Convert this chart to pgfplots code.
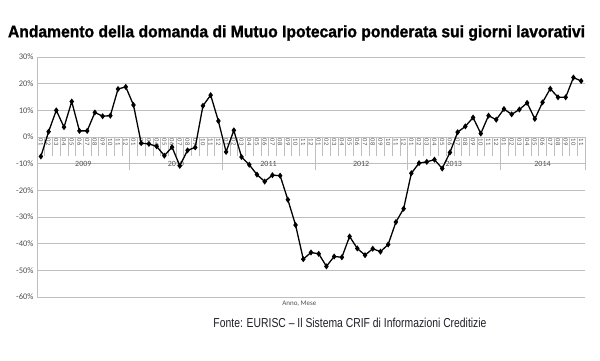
\documentclass[border=0pt]{standalone}
\usepackage{pgfplots}
\pgfplotsset{compat=1.18}
\usepackage{fontspec}
\setmainfont{Carlito}
\newfontfamily\arial{Liberation Sans}[Ligatures=TeX]
\newfontfamily\titlefont{Liberation Sans}[BoldFeatures={FakeBold=1.3}]
\definecolor{gridc}{RGB}{190,190,190}
\definecolor{labc}{RGB}{80,80,80}
\begin{document}
\begin{tikzpicture}[x=1pt,y=1pt]
\path[use as bounding box] (0,0) rectangle (600,360);
\begin{axis}[
  at={(37pt,63pt)}, anchor=south west,
  scale only axis, width=548pt, height=240pt,
  xmin=0.5, xmax=71.5, ymin=-60, ymax=30,
  axis x line=middle, axis y line*=left,
  x axis line style={draw=none},
  y axis line style={gridc, line width=0.8pt},
  xtick={1,...,71},
  xticklabels={01,02,03,04,05,06,07,08,09,10,11,12,01,02,03,04,05,06,07,08,09,10,11,12,01,02,03,04,05,06,07,08,09,10,11,12,01,02,03,04,05,06,07,08,09,10,11,12,01,02,03,04,05,06,07,08,09,10,11,12,01,02,03,04,05,06,07,08,09,10,11},
  xticklabel style={rotate=-90, anchor=west, font=\fontsize{6.5}{7}\selectfont, text=labc, inner sep=1.5pt},
  ytick={-60,-50,...,30},
  yticklabels={-60\%,-50\%,-40\%,-30\%,-20\%,-10\%,0\%,10\%,20\%,30\%},
  yticklabel style={font=\fontsize{8.5}{9}\selectfont, text=labc},
  /pgf/number format/assume math mode=true,
  major tick length=0pt,
  ymajorgrids, grid style={gridc, line width=0.8pt},
  clip=false,
]
\pgfplotsinvokeforeach{1,...,70}{\draw[gridc, line width=0.5pt] (axis cs:#1.5,0) -- (axis cs:#1.5,-7.3);}
\pgfplotsinvokeforeach{0,12,24,36,48,60,71}{\draw[gridc, line width=0.7pt] (axis cs:#1.5,0) -- (axis cs:#1.5,-12.5);}
\node[font=\fontsize{8}{9}\selectfont, text=labc] at (axis cs:6.5,-10.2) {2009};
\node[font=\fontsize{8}{9}\selectfont, text=labc] at (axis cs:18.5,-10.2) {2010};
\node[font=\fontsize{8}{9}\selectfont, text=labc] at (axis cs:30.5,-10.2) {2011};
\node[font=\fontsize{8}{9}\selectfont, text=labc] at (axis cs:42.5,-10.2) {2012};
\node[font=\fontsize{8}{9}\selectfont, text=labc] at (axis cs:54.5,-10.2) {2013};
\node[font=\fontsize{8}{9}\selectfont, text=labc] at (axis cs:66,-10.2) {2014};
\node[font=\fontsize{7}{8}\selectfont, text=labc, anchor=north] at (axis cs:34.5,-60) {Anno, Mese};
\addplot[black, line width=1.3pt, mark=diamond*, mark size=2pt] coordinates {
(1,-7.3) (2,2.0) (3,10.0) (4,3.7) (5,13.3) (6,2.3) (7,2.3) (8,9.2) (9,7.8) (10,8.0) (11,18.0) (12,18.8)
(13,12.0) (14,-2.3) (15,-2.6) (16,-3.5) (17,-7.0) (18,-3.8) (19,-10.8) (20,-5.0) (21,-3.9) (22,11.7) (23,15.7) (24,6.0)
(25,-5.6) (26,2.5) (27,-7.5) (28,-10.4) (29,-14.1) (30,-16.7) (31,-14.3) (32,-14.5) (33,-23.5) (34,-33.0) (35,-45.8) (36,-43.3)
(37,-43.8) (38,-48.5) (39,-44.8) (40,-45.1) (41,-37.3) (42,-41.8) (43,-44.3) (44,-41.9) (45,-43.0) (46,-40.3) (47,-31.9) (48,-26.9)
(49,-13.6) (50,-9.8) (51,-9.3) (52,-8.5) (53,-11.8) (54,-5.8) (55,1.8) (56,4.0) (57,7.3) (58,1.3) (59,8.0) (60,6.5)
(61,10.5) (62,8.5) (63,10.3) (64,12.8) (65,6.8) (66,13.0) (67,18.1) (68,14.9) (69,14.9) (70,22.3) (71,21.0)
};
\end{axis}
\node at (296.5,327) {\resizebox{577pt}{12pt}{\titlefont\fontsize{16}{18}\selectfont\bfseries Andamento della domanda di Mutuo Ipotecario ponderata sui giorni lavorativi}};
\node[text={rgb,255:red,30;green,30;blue,40}] at (350,37) {\resizebox{273pt}{\height}{\arial\fontsize{13}{15}\selectfont Fonte: EURISC – Il Sistema CRIF di Informazioni Creditizie}};
\end{tikzpicture}
\end{document}
